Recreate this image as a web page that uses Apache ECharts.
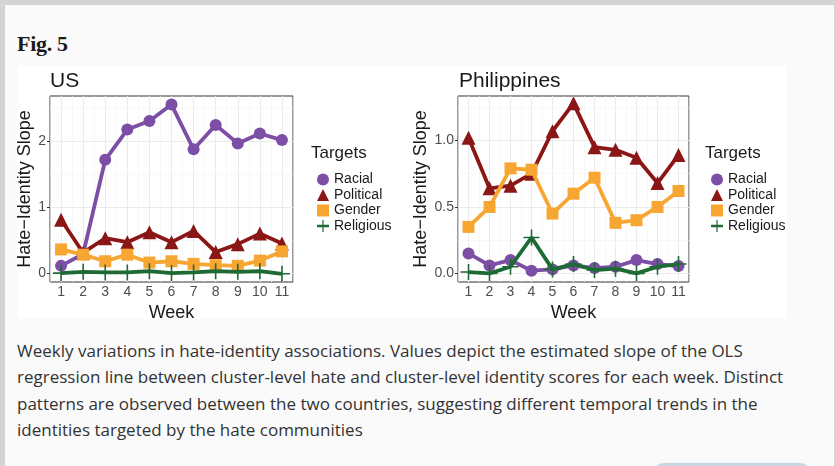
<!DOCTYPE html>
<html>
<head>
<meta charset="utf-8">
<script src="https://cdn.jsdelivr.net/npm/echarts@6/dist/echarts.min.js"></script>
<style>
  html, body { margin: 0; padding: 0; }
  body { width: 835px; height: 466px; background: #d4d4d4; position: relative; overflow: hidden; }
  #page { position: absolute; left: 5px; top: 5px; width: 829px; height: 461px; background: #fafafa; }
  #fig { position: absolute; left: 17px; top: 31px; font-family: "Liberation Serif", "DejaVu Serif", serif; font-weight: bold; font-size: 22px; color: #1a1a1a; letter-spacing: -0.3px; }
  #chart { position: absolute; left: 17px; top: 65px; width: 770px; height: 254px; background: #ffffff; }
  #cap { position: absolute; left: 17px; top: 338px; font-family: "Open Sans", "Noto Sans", sans-serif; font-size: 17px; line-height: 26.3px; color: #333333; white-space: nowrap; }
  #btn { position: absolute; left: 652px; top: 463px; width: 160px; height: 24px; border-radius: 12px; background: #c7d6e1; }
</style>
</head>
<body>
<div id="page"></div>
<div id="fig">Fig. 5</div>
<div id="chart"></div>
<div id="cap">Weekly variations in hate-identity associations. Values depict the estimated slope of the OLS<br>regression line between cluster-level hate and cluster-level identity scores for each week. Distinct<br>patterns are observed between the two countries, suggesting different temporal trends in the<br>identities targeted by the hate communities</div>
<div id="btn"></div>
<script>
// ---- data ----
const weeks = ['1','2','3','4','5','6','7','8','9','10','11'];
const targets = ['Racial','Political','Gender','Religious'];

const usRacial    = [0.11, 0.29, 1.72, 2.18, 2.31, 2.56, 1.88, 2.25, 1.97, 2.12, 2.02];
const usPolitical = [0.81, 0.31, 0.53, 0.47, 0.62, 0.47, 0.64, 0.32, 0.44, 0.60, 0.45];
const usGender    = [0.36, 0.28, 0.18, 0.28, 0.16, 0.18, 0.14, 0.12, 0.11, 0.19, 0.33];
const usReligious = [0.00, 0.02, 0.01, 0.01, 0.03, 0.00, 0.01, 0.03, 0.02, 0.03, -0.01];

const phRacial    = [0.15, 0.06, 0.10, 0.02, 0.03, 0.06, 0.04, 0.05, 0.10, 0.07, 0.055];
const phPolitical = [1.02, 0.64, 0.66, 0.75, 1.07, 1.28, 0.95, 0.93, 0.87, 0.68, 0.89];
const phGender    = [0.35, 0.50, 0.79, 0.78, 0.45, 0.60, 0.72, 0.38, 0.40, 0.50, 0.62];
const phReligious = [0.01, 0.00, 0.05, 0.27, 0.03, 0.07, 0.025, 0.035, 0.00, 0.05, 0.07];

const usTicks = [0, 1, 2];
const usMinor = [0.5, 1.5, 2.5];
const phTicks = [0, 0.5, 1.0];
const phMinor = [0.25, 0.75, 1.25];

// ---- styles ----
const colors = { Racial: '#7D4EA5', Political: '#8B1616', Gender: '#F7A631', Religious: '#1E6A34' };
const plusPath = 'path://M9,0H11V9H20V11H11V20H9V11H0V9H9Z';
const plusLegend = 'path://M9,0H11V8H20V12H11V20H9V12H0V8H9Z';
const symbols = { Racial: 'circle', Political: 'triangle', Gender: 'rect', Religious: plusPath };
const symSize = { Racial: 12, Political: 14, Gender: 12, Religious: 16 };
const legendIcons = { Racial: 'circle', Political: 'triangle', Gender: 'rect', Religious: plusLegend };

const chart = echarts.init(document.getElementById('chart'), null, { renderer: 'canvas' });

function gridLines(majorY, minorY) {
  const d = [];
  weeks.forEach(w => d.push({ xAxis: w, lineStyle: { color: '#ebebeb', width: 1, type: 'solid' } }));
  minorY.forEach(v => d.push({ yAxis: v, lineStyle: { color: '#f3f3f3', width: 0.6, type: 'solid' } }));
  majorY.forEach(v => d.push({ yAxis: v, lineStyle: { color: '#ebebeb', width: 1, type: 'solid' } }));
  return { silent: true, symbol: ['none','none'], label: { show: false }, z: 1, animation: false,
    lineStyle: { type: 'solid', color: '#ebebeb', width: 1 }, emphasis: { disabled: true }, data: d };
}

function makeSeries(idx, arrs, majorY, minorY) {
  return targets.map((t, i) => ({
    name: t, type: 'line', xAxisIndex: idx, yAxisIndex: idx,
    data: arrs[i], symbol: symbols[t], symbolSize: symSize[t], showSymbol: true,
    lineStyle: { color: colors[t], width: 3.8 }, itemStyle: { color: colors[t], borderWidth: 0 },
    z: 2 + i, animation: false,
    markLine: i === 0 ? gridLines(majorY, minorY) : undefined
  }));
}

const axisLabelStyle = { color: '#4d4d4d', fontSize: 14, fontFamily: 'Liberation Sans, Arial, sans-serif' };
const nameStyle = { color: '#1a1a1a', fontSize: 18, fontFamily: 'Liberation Sans, Arial, sans-serif' };

function xAxisDef(idx) {
  return {
    type: 'category', gridIndex: idx, data: weeks, boundaryGap: true,
    axisLine: { show: false },
    axisTick: { show: true, alignWithLabel: true, length: 3, lineStyle: { color: '#333', width: 1 } },
    axisLabel: Object.assign({ margin: 3, interval: 0 }, axisLabelStyle),
    splitLine: { show: true, lineStyle: { color: '#f3f3f3', width: 0.6 } },
    name: 'Week', nameLocation: 'middle', nameGap: 13, nameTextStyle: nameStyle
  };
}
function yAxisDef(idx, min, max, ticks, fmt, gap) {
  return {
    type: 'value', gridIndex: idx, min: min, max: max,
    axisLine: { show: false },
    axisTick: { show: true, length: 3, customValues: ticks, lineStyle: { color: '#333', width: 1 } },
    axisLabel: Object.assign({ margin: 4, customValues: ticks,
      formatter: v => ticks.some(t => Math.abs(t - v) < 1e-9) ? fmt(v) : '' }, axisLabelStyle),
    splitLine: { show: false },
    name: 'Hate\u2212Identity Slope', nameLocation: 'middle', nameGap: gap, nameTextStyle: nameStyle
  };
}

function legendDef(left) {
  return {
    orient: 'vertical', left: left, top: 102, itemWidth: 12, itemHeight: 12, itemGap: 0.5,
    data: targets.map(t => ({ name: t, icon: legendIcons[t] })),
    textStyle: { color: '#1a1a1a', fontSize: 14, lineHeight: 15, fontFamily: 'Liberation Sans, Arial, sans-serif' },
    selectedMode: false
  };
}

const titleFont = { fontWeight: 'normal', color: '#1a1a1a', fontFamily: 'Liberation Sans, Arial, sans-serif' };
const option = {
  backgroundColor: '#ffffff',
  animation: false,
  title: [
    { text: 'US', left: 33, top: 6, textStyle: Object.assign({ fontSize: 21 }, titleFont), padding: 0 },
    { text: 'Philippines', left: 442, top: 6, textStyle: Object.assign({ fontSize: 21 }, titleFont), padding: 0 },
    { text: 'Targets', left: 294, top: 80, textStyle: Object.assign({ fontSize: 17 }, titleFont), padding: 0 },
    { text: 'Targets', left: 688, top: 80, textStyle: Object.assign({ fontSize: 17 }, titleFont), padding: 0 }
  ],
  legend: [ legendDef(295), legendDef(689) ],
  grid: [
    { left: 33, top: 31, width: 243, height: 186, show: true, backgroundColor: '#ffffff', borderColor: '#333333', borderWidth: 1, containLabel: false, outerBoundsMode: 'none' },
    { left: 441, top: 31, width: 231, height: 186, show: true, backgroundColor: '#ffffff', borderColor: '#333333', borderWidth: 1, containLabel: false, outerBoundsMode: 'none' }
  ],
  xAxis: [ xAxisDef(0), xAxisDef(1) ],
  yAxis: [
    yAxisDef(0, -0.135, 2.69, usTicks, v => String(Math.round(v)), 13),
    yAxisDef(1, -0.065, 1.335, phTicks, v => v.toFixed(1), 28)
  ],
  series: [].concat(
    makeSeries(0, [usRacial, usPolitical, usGender, usReligious], usTicks, usMinor),
    makeSeries(1, [phRacial, phPolitical, phGender, phReligious], phTicks, phMinor)
  )
};
chart.setOption(option);
</script>
</body>
</html>
